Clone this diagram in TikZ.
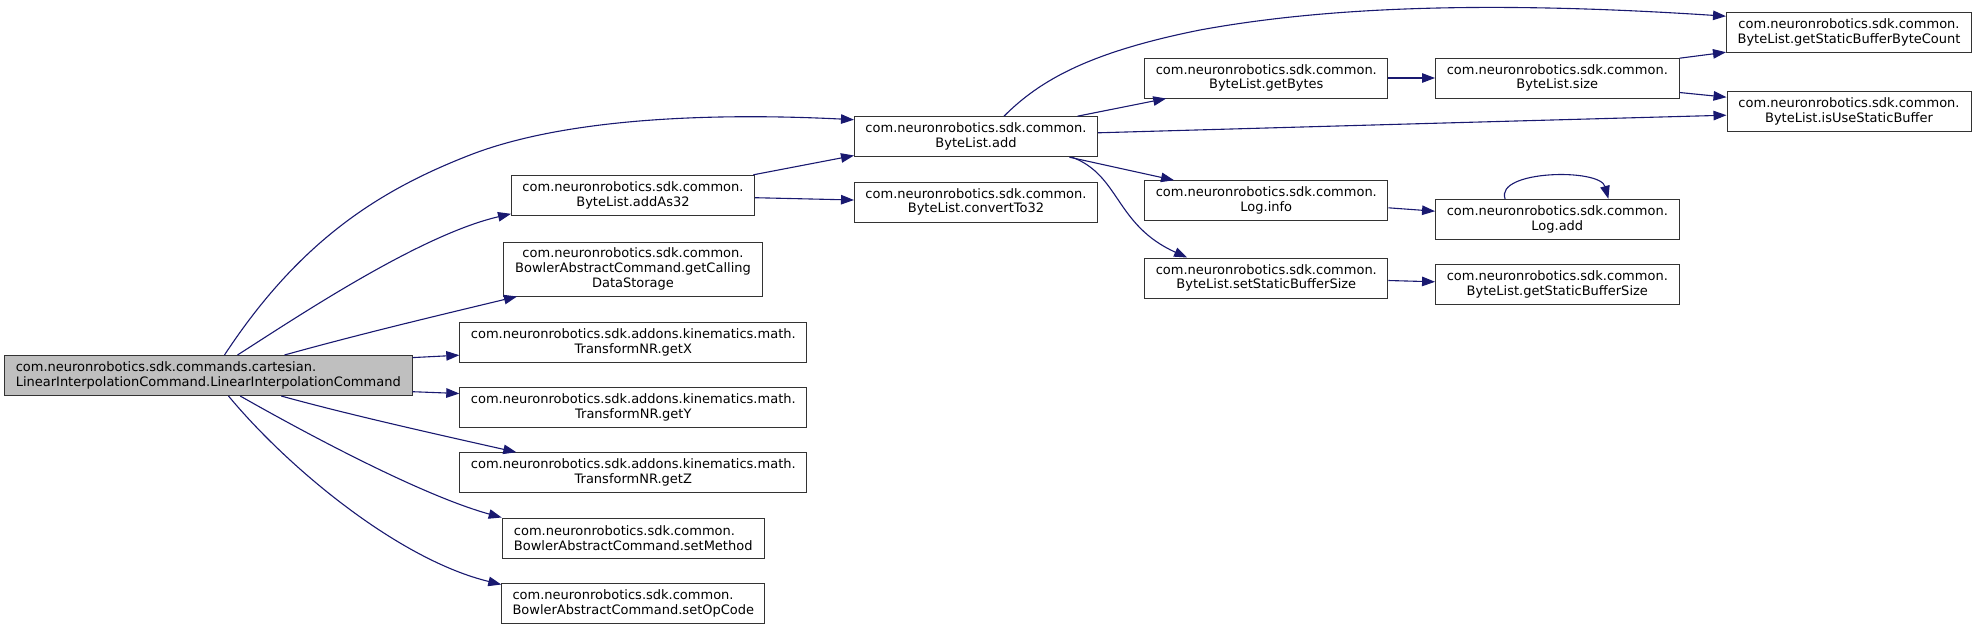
\documentclass[tikz,border=0pt]{standalone}
\usepackage{fontspec}
\setmainfont{DejaVu Sans}
\usetikzlibrary{arrows.meta,calc}
\definecolor{edgecol}{HTML}{191970}
\definecolor{bordercol}{HTML}{333333}
\definecolor{mainfill}{HTML}{BFBFBF}
\begin{document}
\begin{tikzpicture}[x=1pt,y=1pt,
  box/.style={draw=bordercol, line width=1pt, fill=white, inner sep=0pt,
    font=\fontsize{13}{14.7}\selectfont, align=center, minimum height=40pt},
  mainbox/.style={box, fill=mainfill, align=left},
  conn/.style={draw=edgecol, line width=1.1pt, -{Triangle[length=13pt,width=9.5pt]}}
]
\useasboundingbox (0,0) rectangle (1976,-630);
% nodes
\node[mainbox, minimum width=407.5pt] (main) at (208.25,-375.5)
  {com.neuronrobotics.sdk.commands.cartesian.\\LinearInterpolationCommand.LinearInterpolationCommand};
\node[box, minimum width=243pt] (addAs32) at (633,-195.3)
  {com.neuronrobotics.sdk.common.\\ByteList.addAs32};
\node[box, minimum width=259pt, minimum height=54pt] (getCalling) at (633,-269)
  {com.neuronrobotics.sdk.common.\\BowlerAbstractCommand.getCalling\\DataStorage};
\node[box, minimum width=347pt] (getX) at (633.3,-342.3)
  {com.neuronrobotics.sdk.addons.kinematics.math.\\TransformNR.getX};
\node[box, minimum width=347pt] (getY) at (633.3,-407.3)
  {com.neuronrobotics.sdk.addons.kinematics.math.\\TransformNR.getY};
\node[box, minimum width=347pt] (getZ) at (633.3,-472.7)
  {com.neuronrobotics.sdk.addons.kinematics.math.\\TransformNR.getZ};
\node[box, align=left, minimum width=262pt] (setMethod) at (633.2,-538)
  {com.neuronrobotics.sdk.common.\\BowlerAbstractCommand.setMethod};
\node[box, align=left, minimum width=263pt] (setOpCode) at (633.3,-603.3)
  {com.neuronrobotics.sdk.common.\\BowlerAbstractCommand.setOpCode};
\node[box, minimum width=243pt] (add) at (976,-136.7)
  {com.neuronrobotics.sdk.common.\\ByteList.add};
\node[box, minimum width=243pt] (convertTo32) at (976,-202)
  {com.neuronrobotics.sdk.common.\\ByteList.convertTo32};
\node[box, minimum width=243pt] (getBytes) at (1266.3,-78)
  {com.neuronrobotics.sdk.common.\\ByteList.getBytes};
\node[box, minimum width=243pt] (logInfo) at (1266.3,-200.7)
  {com.neuronrobotics.sdk.common.\\Log.info};
\node[box, minimum width=243pt] (setSBS) at (1266.3,-278)
  {com.neuronrobotics.sdk.common.\\ByteList.setStaticBufferSize};
\node[box, minimum width=243.5pt] (size) at (1557.3,-78)
  {com.neuronrobotics.sdk.common.\\ByteList.size};
\node[box, minimum width=243.5pt] (logAdd) at (1557.3,-219.3)
  {com.neuronrobotics.sdk.common.\\Log.add};
\node[box, minimum width=243.5pt] (getSBS) at (1557.3,-284.7)
  {com.neuronrobotics.sdk.common.\\ByteList.getStaticBufferSize};
\node[box, minimum width=245pt] (gsbbc) at (1849,-32.7)
  {com.neuronrobotics.sdk.common.\\ByteList.getStaticBufferByteCount};
\node[box, minimum width=244pt] (isUse) at (1849,-111.3)
  {com.neuronrobotics.sdk.common.\\ByteList.isUseStaticBuffer};
% connectors from main
\draw[conn] ($(main.north west)+(220.5,0)$) .. controls (300,-240) and (380,-190) .. (470,-155)
  .. controls (560,-120) and (700,-112) .. ($(add.north west)+(0,-3.5)$);
\draw[conn] ($(main.north west)+(233.5,0)$) .. controls (300,-315) and (420,-235) .. ($(addAs32.south west)+(0,2)$);
\draw[conn] ($(main.north west)+(280.5,0)$) .. controls (360,-334) and (440,-315) .. ($(getCalling.south west)+(14,0)$);
\draw[conn] ($(main.north east)+(0,-2.6)$) -- ($(getX.north west)+(0,-33.4)$);
\draw[conn] ($(main.south east)+(0,4.3)$) -- ($(getY.north west)+(0,-6.7)$);
\draw[conn] ($(main.south west)+(277.2,0)$) .. controls (350,-415) and (440,-435) .. ($(getZ.north west)+(57,0)$);
\draw[conn] ($(main.south west)+(236.2,0)$) .. controls (300,-430) and (420,-495) .. (setMethod.north west);
\draw[conn] ($(main.south west)+(224.5,0)$) .. controls (290,-470) and (400,-560) .. ($(setOpCode.north west)+(0,-1.7)$);
% connectors from addAs32
\draw[conn] ($(addAs32.north east)+(-1.7,0)$) -- ($(add.south west)+(0,1.7)$);
\draw[conn] ($(addAs32.east)+(0,-2.4)$) -- ($(convertTo32.west)+(0,2)$);
% connectors from add
\draw[conn] ($(add.north west)+(150,0)$) .. controls (1040,-80) and (1090,-52) .. (1200,-30)
  .. controls (1320,-8) and (1480,0) .. ($(gsbbc.north west)+(0,-4)$);
\draw[conn] ($(add.north west)+(223.4,0)$) -- ($(getBytes.south west)+(21.9,0)$);
\draw[conn] ($(add.north east)+(0,-16.6)$) .. controls (1300,-127) and (1550,-120) .. ($(isUse.north west)+(0,-24.4)$);
\draw[conn] ($(add.south west)+(215.4,0)$) -- ($(logInfo.north west)+(29.7,0)$);
\draw[conn] ($(add.south west)+(218,0)$) .. controls (1120,-175) and (1115,-225) .. ($(setSBS.north west)+(42.8,0)$);
% remaining
\draw[conn] (getBytes.east) -- (size.west);
\draw[conn] ($(size.north east)+(0,-0.7)$) -- ($(gsbbc.south west)+(0,1)$);
\draw[conn] ($(size.south east)+(0,6)$) -- ($(isUse.north west)+(0,-6.4)$);
\draw[conn] ($(logInfo.north east)+(0,-27.6)$) -- ($(logAdd.north west)+(0,-12.4)$);
\draw[conn] ($(logAdd.north west)+(70,0)$) .. controls (1495,-170) and (1600,-168) .. ($(logAdd.north west)+(173.3,0)$);
\draw[conn] ($(setSBS.north east)+(0,-23)$) -- ($(getSBS.north west)+(0,-17.6)$);
\end{tikzpicture}
\end{document}
